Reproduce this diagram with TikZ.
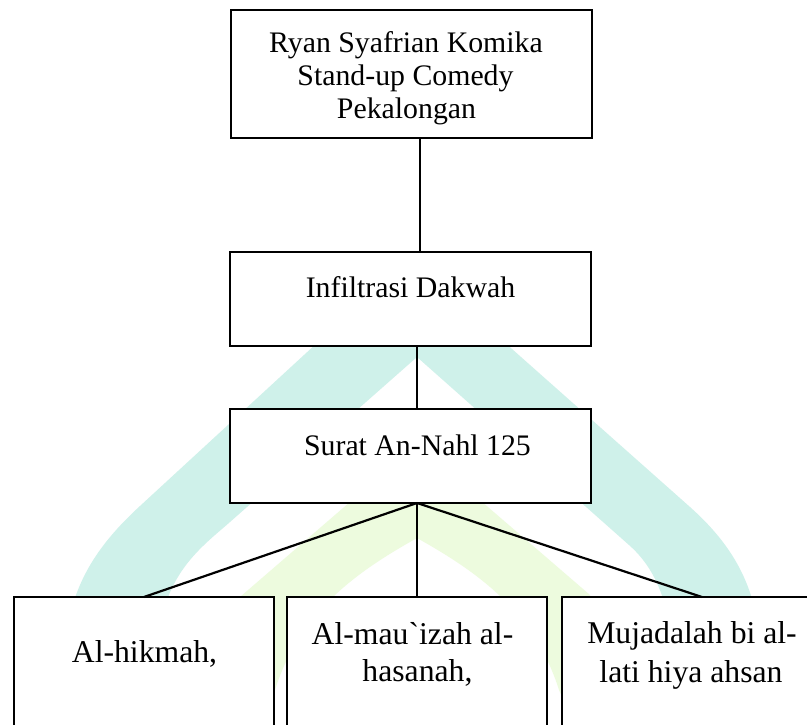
\documentclass[tikz,border=0pt]{standalone}
\usepackage{fontspec}
\setmainfont{Liberation Serif}[Ligatures=TeXOff]
\definecolor{wmteal}{RGB}{207,241,234}
\definecolor{wmlime}{RGB}{237,251,222}
\begin{document}
\begin{tikzpicture}[x=1pt,y=-1pt,
  box/.style={draw=black, line width=2.4pt, fill=white, inner sep=0pt, outer sep=0pt},
  conn/.style={draw=black, line width=2.2pt},
  txt/.style={anchor=base, inner sep=0pt, font=\fontsize{29.8}{33}\selectfont},
  txtb/.style={anchor=base, inner sep=0pt, font=\fontsize{31.7}{38}\selectfont}]
\useasboundingbox (0,0) rectangle (807,725);
\clip (0,0) rectangle (807,725);
\fill[white] (0,0) rectangle (807,725);
% watermark
\fill[wmteal] (405,262) -- (414,262) -- (690,507)
  .. controls (729,542) and (754,580) .. (760,640)
  -- (673,650) .. controls (668,600) and (655,568) .. (629,545)
  -- (417,357) -- (230,522) .. controls (203,546) and (160,575) .. (158,650)
  -- (66,640) .. controls (72,580) and (102,541) .. (140,506) -- cycle;
\fill[wmlime] (416,445) -- (590,595) -- (612,725) -- (575,725) -- (559,690)
  .. controls (534,610) and (474,570) .. (417,538)
  .. controls (360,570) and (300,610) .. (275,690)
  -- (259,725) -- (222,725) -- (240,597) -- cycle;
% boxes
\node[box, minimum width=361pt, minimum height=128pt] (b1) at (411.5,74) {};
\node[box, minimum width=361pt, minimum height=94pt] (b2) at (410.5,299) {};
\node[box, minimum width=361pt, minimum height=94pt] (b3) at (410.5,456) {};
\node[box, minimum width=260pt, minimum height=200pt] (b4) at (144,697) {};
\node[box, minimum width=260pt, minimum height=200pt] (b5) at (417,697) {};
\node[box, minimum width=260pt, minimum height=200pt] (b6) at (692,697) {};
% texts
\node[txt] (t1a) at (406,53) {Ryan Syafrian Komika};
\node[txt] (t1b) at (405.5,86) {Stand-up Comedy};
\node[txt] (t1c) at (406.5,119) {Pekalongan};
\node[txt] (t2) at (410.5,297) {Infiltrasi Dakwah};
\node[txt] (t3) at (417.5,455) {Surat An-Nahl 125};
\node[txtb] (t4) at (144.5,662) {Al-hikmah,};
\node[txtb] (t5a) at (412.5,644) {Al-mau`izah al-};
\node[txtb] (t5b) at (417.5,681) {hasanah,};
\node[txtb] (t6a) at (692,643) {Mujadalah bi al-};
\node[txtb] (t6b) at (691,682) {lati hiya ahsan};
% connectors
\coordinate (k1) at (420,0);
\coordinate (k2) at (417,0);
\coordinate (k3) at (702,0);
\draw[conn] (b1.south -| k1) -- (b2.north -| k1);
\draw[conn] (b2.south -| k2) -- (b3.north -| k2);
\coordinate (hub) at (b3.south -| k2);
\draw[conn] (hub) -- (b4.north);
\draw[conn] (hub) -- (b5.north);
\draw[conn] (hub) -- (b6.north -| k3);
\end{tikzpicture}
\end{document}
